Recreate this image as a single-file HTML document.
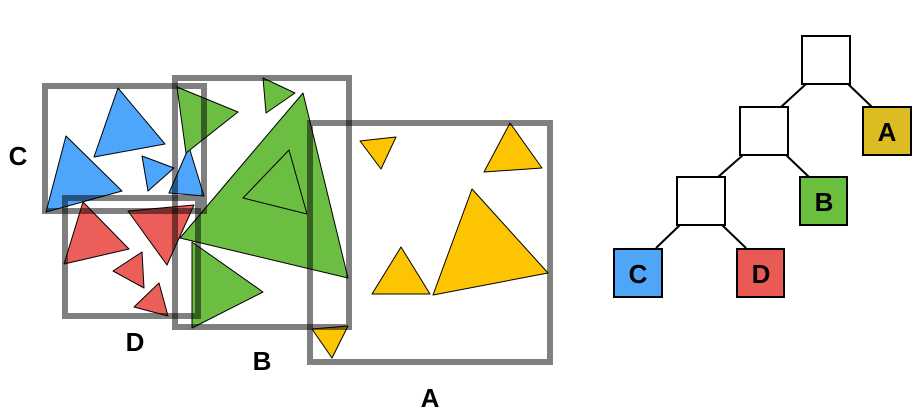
<!DOCTYPE html>
<html><head><meta charset="utf-8"><style>
html,body{margin:0;padding:0;background:#fff;width:923px;height:417px;overflow:hidden}
</style></head><body>
<svg width="923" height="417" viewBox="0 0 923 417" xmlns="http://www.w3.org/2000/svg" font-family="Liberation Sans, sans-serif" font-weight="bold">
<g stroke="#000" stroke-width="1" stroke-linejoin="round">
<g fill="#4da6fc">
<polygon points="118,88 165,144 94,157"/>
<polygon points="66,136 122,191 46,212"/>
<polygon points="142,156 174,168 148,191"/>
<polygon points="189,147 204,196 169,193"/>
</g>
<g fill="#ec5e5a">
<polygon points="83,202 129,249 64,264"/>
<polygon points="128,211 194,205 167,265"/>
<polygon points="142,252 144,288 113,271"/>
<polygon points="159,283 168,316 134,307"/>
</g>
<g fill="#6cbe42">
<polygon points="177,87 238,112 186,153"/>
<polygon points="263,78 295,93 266,113"/>
<polygon points="303,93 348,278 180,238"/>
<polygon points="289,150 307,214 243,198"/>
<polygon points="192,242 263,292 192,328"/>
</g>
<g fill="#fdc401">
<polygon points="360,141 396,137 381,169"/>
<polygon points="510,123 542,168 484,172"/>
<polygon points="401,247 430,294 372,294"/>
<polygon points="472,189 548,273 433,295"/>
<polygon points="312,329 348,326 332,358"/>
</g>
</g>
<g fill="none" stroke="#000" stroke-opacity="0.5" stroke-width="6">
<rect x="45" y="86" width="159" height="125"/>
<rect x="65" y="198" width="133" height="118"/>
<rect x="175" y="78" width="174" height="249"/>
<rect x="310" y="123" width="240" height="239"/>
</g>
<g font-size="26" fill="#000" text-anchor="middle">
<text x="18" y="165">C</text>
<text x="135" y="351">D</text>
<text x="262" y="370">B</text>
<text x="430" y="407">A</text>
</g>
<g stroke="#000" stroke-width="2">
<line x1="806" y1="84" x2="781" y2="107"/>
<line x1="848" y1="84" x2="872" y2="107"/>
<line x1="743" y1="155" x2="718" y2="177"/>
<line x1="786" y1="155" x2="809" y2="177"/>
<line x1="680" y1="225" x2="656" y2="248"/>
<line x1="722" y1="225" x2="746" y2="248"/>
</g>
<g stroke="#000" stroke-width="2">
<rect x="802" y="36" width="48" height="48" fill="#fff"/>
<rect x="740" y="107" width="48" height="48" fill="#fff"/>
<rect x="677" y="177" width="48" height="48" fill="#fff"/>
<rect x="863" y="107" width="48" height="48" fill="#dbbc22"/>
<rect x="800" y="177" width="47" height="48" fill="#6bbf3f"/>
<rect x="614" y="249" width="48" height="48" fill="#4fa5f8"/>
<rect x="737" y="249" width="47" height="48" fill="#ea5a55"/>
</g>
<g font-size="26" fill="#000" text-anchor="middle">
<text x="887" y="141">A</text>
<text x="824" y="211">B</text>
<text x="638" y="283">C</text>
<text x="761" y="283">D</text>
</g>
</svg>
</body></html>
